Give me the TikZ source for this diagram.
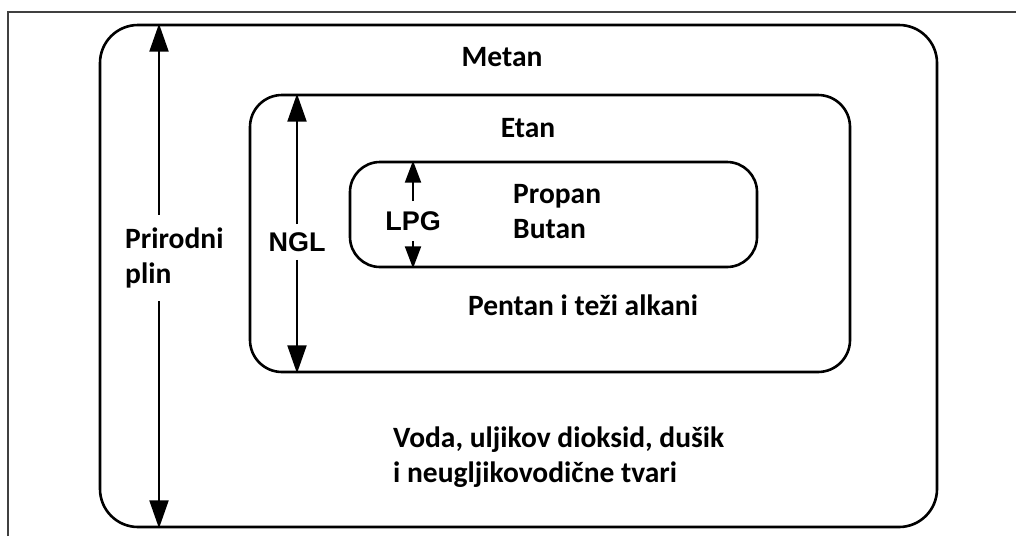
\documentclass[tikz,border=0pt]{standalone}
\usepackage{fontspec}
\setmainfont{Carlito}
\newfontfamily\labelfont{Liberation Sans}
\usetikzlibrary{arrows.meta}
\tikzstyle{gasbox} = [rectangle, draw=black, line width=2.6pt, inner sep=0pt]
\tikzstyle{gastext} = [font=\fontsize{29.5}{35}\selectfont\bfseries, align=left, inner sep=0pt]
\tikzstyle{dimlabel} = [font=\labelfont\fontsize{27}{30}\selectfont\bfseries, inner xsep=0pt]
\tikzstyle{arrow} = [line width=2.2pt, -{Triangle[length=28pt, width=19pt]}]
\tikzstyle{smallarrow} = [line width=2.2pt, -{Triangle[length=22pt, width=16pt]}]

\begin{document}
\begin{tikzpicture}[x=1pt, y=-1pt]
	\useasboundingbox (0,0) rectangle (1016,536);
	\draw [line width=1.5pt, black!75] (8,536) -- (8,12) -- (1016,12);

	\node (prirodni) [gasbox, rounded corners=38pt, minimum width=837pt, minimum height=502pt] at (518.5,276) {};
	\node (ngl) [gasbox, rounded corners=32pt, minimum width=600pt, minimum height=277pt] at (550,233.5) {};
	\node (lpg) [gasbox, rounded corners=30pt, minimum width=407pt, minimum height=105pt] at (553.5,214.5) {};

	\node (metan) [gastext] at (502,57) {Metan};
	\node (etan) [gastext] at (528,128) {Etan};
	\node (propan) [gastext, anchor=west] at (513,212) {Propan\\Butan};
	\node (pentan) [gastext] at (583,305) {Pentan i teži alkani};
	\node (voda) [gastext, anchor=west] at (393,457) {Voda, uljikov dioksid, dušik\\i neugljikovodične tvari};

	% dimension arrows
	\coordinate (plinaxis) at (159,258);
	\node (plinlbl) [gastext, anchor=west, inner ysep=13pt] at (125,258) {Prirodni\\plin};
	\draw [arrow] (plinaxis |- plinlbl.north) -- (plinaxis |- prirodni.north);
	\draw [arrow] (plinaxis |- plinlbl.south) -- (plinaxis |- prirodni.south);

	\node (ngllbl) [dimlabel, inner ysep=8pt] at (297,242) {NGL};
	\draw [arrow] (ngllbl.north) -- (ngllbl |- ngl.north);
	\draw [arrow] (ngllbl.south) -- (ngllbl |- ngl.south);

	\node (lpglbl) [dimlabel, inner ysep=10pt] at (413,221) {LPG};
	\draw [smallarrow] (lpglbl.north) -- (lpglbl |- lpg.north);
	\draw [smallarrow] (lpglbl.south) -- (lpglbl |- lpg.south);
\end{tikzpicture}
\end{document}
